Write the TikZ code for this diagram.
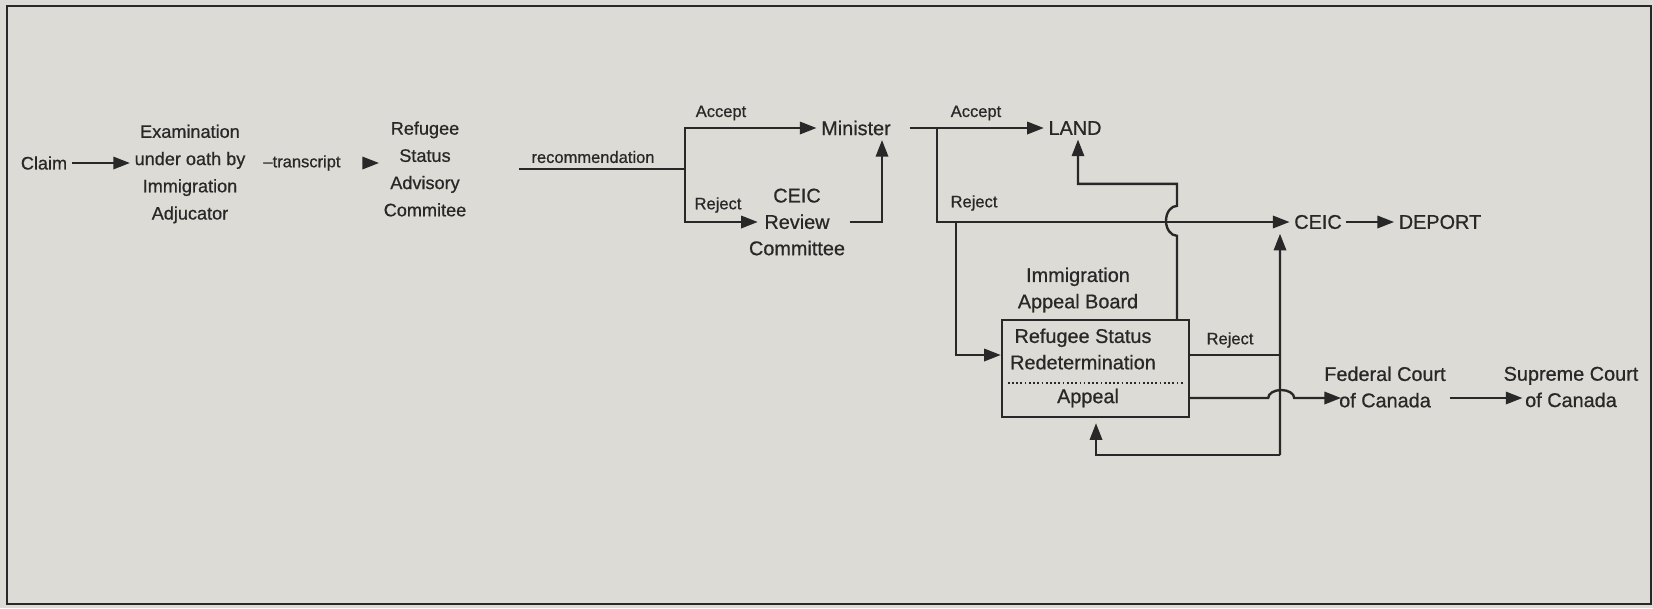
\documentclass[tikz,border=0pt]{standalone}
\usepackage{fontspec}
\setmainfont{Liberation Sans}[RawFeature={embolden=0.7}]
\usetikzlibrary{arrows.meta}
\definecolor{paper}{RGB}{221,219,213}
\definecolor{ink}{RGB}{40,40,40}
\tikzset{
  arr/.style={-{Triangle[length=9.5pt,width=7pt]}},
  txt/.style={align=center,inner sep=2pt,font=\fontsize{11.3}{15}\selectfont},
  txtl/.style={align=center,inner sep=2pt,font=\fontsize{10.3}{15.5}\selectfont},
  lbl/.style={inner sep=0pt,font=\fontsize{9.4}{11}\selectfont},
}
\begin{document}
\begin{tikzpicture}[x=0.2mm,y=-0.2mm,line width=1.35pt,color=ink]
\useasboundingbox (0,0) rectangle (1653,608);
\fill[paper] (0,0) rectangle (1653,608);
\draw[line width=1pt] (7,6) rectangle (1651,604);
% left part
\node[txtl] (claim) at (44,163) {Claim};
\node[txtl] (exam) at (190,174) {Examination\\under oath by\\Immigration\\Adjucator};
\node[lbl] (transcript) at (302,163) {--transcript};
\node[txtl] (rsac) at (425,169) {Refugee\\Status\\Advisory\\Commitee};
\node[lbl] (recom) at (593,157) {recommendation};
\draw[arr] (claim.east) -- (claim.east -| exam.west);
\draw[arr,shorten <=7mm] (transcript.east) -- (transcript.east -| rsac.west);
% committee decision
\coordinate (split) at (685,169);
\node[txt] (minister) at (856,128) {Minister};
\node[txt] (ceicrev) at (797,222) {CEIC\\Review\\Committee};
\node[lbl] (acc1) at (721,113) {Accept};
\node[lbl] (rej1) at (718,205) {Reject};
\draw[shorten <=9.7mm] (rsac.east) -- (split);
\draw[arr] (split) |- (minister.west);
\draw[arr] (split) |- ([xshift=2.7mm]ceicrev.west);
\draw[arr] (ceicrev.east) -| ([xshift=5.2mm]minister.south);
% minister decision
\node[txt] (land) at (1075,128) {LAND};
\node[txt] (ceic) at (1318,222) {CEIC};
\node[txt] (deport) at (1440,222) {DEPORT};
\node[lbl] (acc2) at (976,113) {Accept};
\node[lbl] (rej2) at (974,203) {Reject};
\coordinate (macc) at (937,129);
\coordinate (mdown) at (956,222);
\draw[arr,shorten <=2.9mm] (minister.east) -- (land.west);
\draw[arr] (macc) |- (ceic.west);
\draw[arr] (ceic) -- (deport);
% appeal board
\node[txt] (iab) at (1078,290) {Immigration\\Appeal Board};
\node[draw,minimum width=37.4mm,minimum height=19.4mm] (iabbox) at (1095.5,368.5) {};
\node[txt] (redet) at (1083,349) {Refugee Status\\Redetermination};
\node[txt] (appeal) at (1088,398) {Appeal};
\draw[line width=1pt,dash pattern=on 1pt off 1.4pt] ([xshift=1.4mm,yshift=-2.9mm]iabbox.west) -- ([xshift=-1.2mm,yshift=-2.9mm]iabbox.east);
\draw[arr] (mdown) |- ([yshift=2.7mm]iabbox.west);
\draw[arr] ([xshift=16.3mm]iabbox.north) -- ++(0,-83) arc[start angle=270,end angle=90,x radius=2.2mm,y radius=3mm] -- ++(0,-22) -| ([xshift=0.6mm]land.south);
\node[lbl] (rej3) at (1230,340) {Reject};
\coordinate (loop) at (1280,455);
\draw[arr] (loop) -- ([xshift=-7.6mm]ceic.south);
\draw ([yshift=2.7mm]iabbox.east) -- ++(91,0);
\draw[arr,shorten >=1mm] (loop) -| ([xshift=0.1mm]iabbox.south);
% courts
\node[txt] (federal) at (1385,387) {Federal Court\\of Canada};
\node[txt] (supreme) at (1571,387) {Supreme Court\\of Canada};
\draw[arr] ([yshift=-5.9mm]iabbox.east) -- ++(78,0) arc[start angle=180,end angle=0,x radius=2.6mm,y radius=1.6mm] -- ([xshift=4.3mm,yshift=-2.2mm]federal.west);
\draw[arr] ([yshift=-2.2mm]federal.east) -- ([xshift=4.7mm,yshift=-2.2mm]supreme.west);
\end{tikzpicture}
\end{document}
